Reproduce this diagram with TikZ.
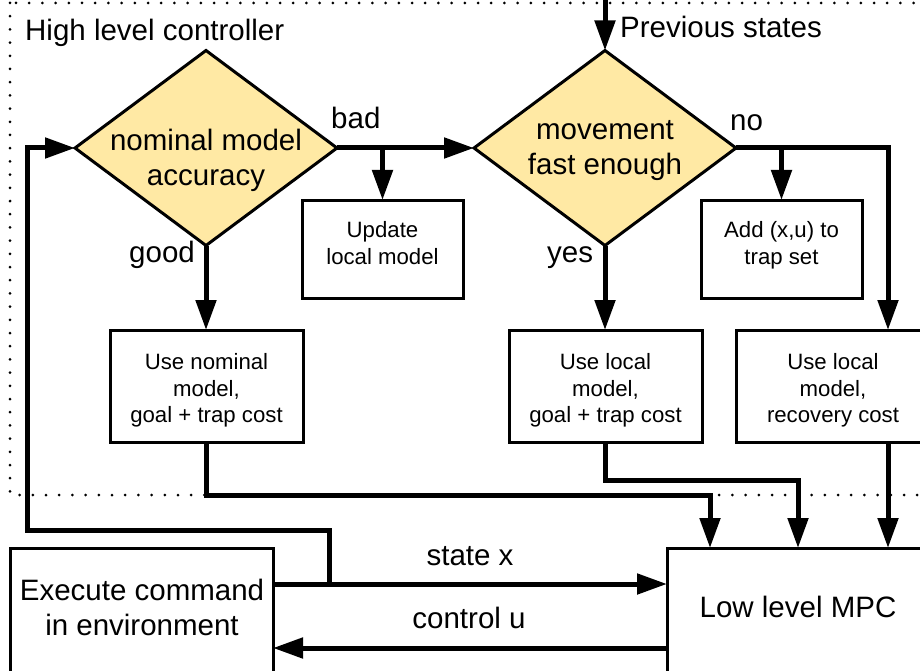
\documentclass[tikz,border=0pt]{standalone}
\usepackage{fontspec}
\setmainfont{Liberation Sans}
\usetikzlibrary{arrows.meta,positioning,calc,shapes.geometric}
\newcommand{\bigtxt}{\fontsize{29.5}{35}\selectfont}
\newcommand{\smalltxt}{\fontsize{22.2}{26.5}\selectfont}
\definecolor{decfill}{RGB}{255,233,164}
\tikzset{
  box/.style={draw,rectangle,line width=3pt,inner sep=0pt,outer sep=0pt,align=center,font=\smalltxt},
  upbox/.style={box,text depth=12pt,minimum width=161pt,minimum height=98pt},
  costbox/.style={box,text height=78pt,minimum width=193pt,minimum height=112pt},
  bigbox/.style={draw,rectangle,line width=3pt,inner sep=0pt,outer sep=0pt,minimum width=263pt,minimum height=152pt},
  decision/.style={draw,diamond,line width=3pt,fill=decfill,inner sep=0pt,outer sep=0pt,minimum width=262pt,minimum height=195pt},
  arr/.style={-{Triangle[length=30pt,width=20pt]},line width=5pt},
  frame/.style={line width=3pt,line cap=round,dash pattern=on 0pt off 13.2pt},
  lbl/.style={font=\bigtxt,inner sep=0pt,align=center}
}

\begin{document}
\begin{tikzpicture}[x=1pt,y=-1pt]
  \useasboundingbox (0,0) rectangle (920,671);
  \clip (0,0) rectangle (920,671);
  % Dotted frame of the high level controller
  \draw[frame] (10,3) rectangle (940,495);
  \node[lbl, anchor=base west] (title) at (25,41) {High level controller};

  % Decisions
  \node[decision] (acc) at (206,148) {};
  \node[lbl] (acctxt) at ($(acc.center)+(0,12)$) {nominal model\\accuracy};
  \node[decision] (fast) at (605,148) {};
  \node[lbl] (fasttxt) at ($(fast.center)+(0,3)$) {movement\\fast enough};

  % Update boxes
  \node[upbox] (upd) at (382.5,249) {Update\\local model};
  \node[upbox] (add) at (781.5,249) {Add (x,u) to\\trap set};

  % Cost boxes
  \node[costbox] (nom) at (206.5,386) {Use nominal\\model,\\goal + trap cost};
  \node[costbox] (loc) at (605.5,386) {Use local\\model,\\goal + trap cost};
  \node[costbox, minimum width=194pt] (rec) at (833,386) {Use local\\model,\\recovery cost};

  % Environment and low level MPC
  \node[bigbox] (exe) at (141.5,624) {};
  \node[lbl] (exetxt) at (142,607) {Execute command\\in environment};
  \node[bigbox] (mpc) at (798.5,624) {};
  \node[lbl, anchor=base] (mpctxt) at (798,617) {Low level MPC};

  % Previous states input
  \coordinate (prevtop) at (605,-10);
  \draw[arr] (prevtop) -- (fast.north);
  \node[lbl, anchor=base west] (prev) at (620,38) {Previous states};

  % Decision branches
  \draw[arr] (acc.east) -- (fast.west);
  \draw[arr] (upd.north |- acc.east) -- (upd.north);
  \draw[arr] (fast.east) -| ($(rec.north east)+(-42,0)$);
  \draw[arr] (add.north |- fast.east) -- (add.north);
  \draw[arr] (acc.south) -- (acc.south |- nom.north);
  \draw[arr] (fast.south) -- (fast.south |- loc.north);
  \node[lbl, anchor=base west] (bad) at (331,129) {bad};
  \node[lbl, anchor=base west] (no) at (730,131) {no};
  \node[lbl, anchor=base west] (good) at (129,262) {good};
  \node[lbl, anchor=base west] (yes) at (547,262) {yes};

  % Costs into MPC
  \draw[arr] (nom.south) -- ++(0,53) -| ($(mpc.north west)+(43,0)$);
  \draw[arr] (loc.south) -- ++(0,38) -| ($(mpc.north west)+(131,0)$);
  \draw[arr] ($(rec.south east)+(-42,0)$) -- ($(mpc.north west)+(221,0)$);

  % State and control loop
  \draw[arr] ($(exe.north east)+(0,36)$) -- ($(mpc.north west)+(0,36)$);
  \draw[arr] ($(exe.north east)+(56,36)$) -- ++(0,-54) -- ++(-302,0) |- (acc.west);
  \draw[arr] ($(mpc.north west)+(0,100)$) -- ($(exe.north east)+(0,100)$);
  \node[lbl, anchor=base] (statex) at (470,565) {state x};
  \node[lbl, anchor=base] (controlu) at (469,628) {control u};
\end{tikzpicture}
\end{document}
